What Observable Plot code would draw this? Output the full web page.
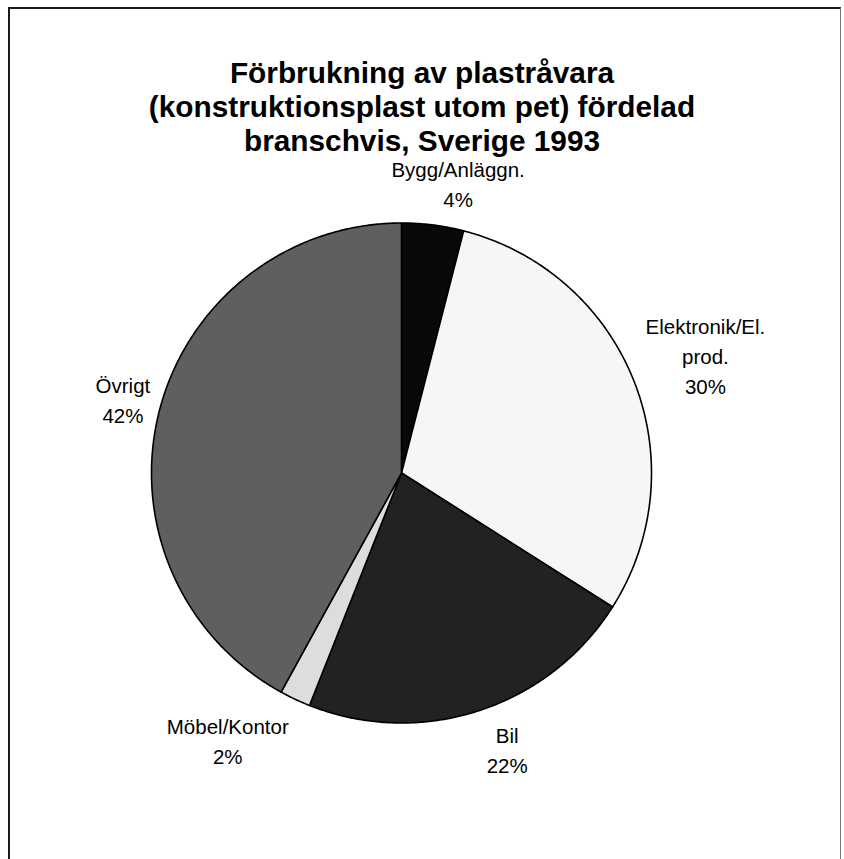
<!DOCTYPE html>
<html>
<head>
<meta charset="utf-8">
<script src="https://cdn.jsdelivr.net/npm/d3@7"></script>
<script src="https://cdn.jsdelivr.net/npm/@observablehq/plot@0.6"></script>
<style>
  html, body { margin: 0; padding: 0; background: #fff; overflow: hidden; }
  #page { position: relative; width: 844px; height: 859px; overflow: hidden; font-family: "Liberation Sans", Arial, sans-serif; }
  #frame { position: absolute; left: 8px; top: 7px; width: 833px; height: 900px;
           border-left: 2px solid #1a1a1a; border-top: 2px solid #1a1a1a; border-right: 1px solid #7a7a7a; box-sizing: border-box; }
  #title { position: absolute; left: 0; top: 56px; width: 844px; text-align: center;
           font-weight: bold; font-size: 29.8px; line-height: 34px; color: #000; }
  #chart { position: absolute; left: 0; top: 0; }
</style>
</head>
<body>
<div id="page">
  <div id="frame"></div>
  <div id="chart"></div>
  <div id="title">Förbrukning av plastråvara<br>(konstruktionsplast utom pet) fördelad<br>branschvis, Sverige 1993</div>
</div>
<script>
// Industry shares of plastic raw material consumption, clockwise from 12 o'clock
const categories = ["Bygg/Anläggn.", "Elektronik/El.\nprod.", "Bil", "Möbel/Kontor", "Övrigt"];
const shares = [4, 30, 22, 2, 42];
const sliceColors = ["#080808", "#f6f6f6", "#222222", "#dddddd", "#5f5f5f"];

// Label placement: pixel nudges from the point just outside each slice's mid-angle
const labelNudge = [[19, 7], [25, -8], [13, -10], [-46, -5], [12, 0]];

const arcs = d3.pie().sort(null).value(d => d)(shares);

// Each slice as a closed polygon in unit (x, y) space, from the centre along the arc
const slicePoints = [];
arcs.forEach((a, i) => {
  const steps = Math.max(4, Math.ceil((a.endAngle - a.startAngle) / (Math.PI / 360)));
  slicePoints.push({slice: i, x: 0, y: 0, color: sliceColors[i]});
  for (let k = 0; k <= steps; k++) {
    const t = a.startAngle + (a.endAngle - a.startAngle) * k / steps;
    slicePoints.push({slice: i, x: Math.sin(t), y: Math.cos(t), color: sliceColors[i]});
  }
  slicePoints.push({slice: i, x: 0, y: 0, color: sliceColors[i]});
});

const labelR = 1.2;
const labelMarks = arcs.map((a, i) => {
  const mid = (a.startAngle + a.endAngle) / 2;
  return Plot.text([{x: labelR * Math.sin(mid), y: labelR * Math.cos(mid), text: `${categories[i]}\n${shares[i]}%`}], {
    x: "x", y: "y", text: "text",
    dx: labelNudge[i][0], dy: labelNudge[i][1],
    textAnchor: "middle", lineAnchor: "middle", lineHeight: 1.45,
    fontSize: 20.5, fill: "#000",
    fontFamily: "Liberation Sans, Arial, sans-serif"
  });
});

const chart = Plot.plot({
  width: 844,
  height: 859,
  marginLeft: 151,
  marginRight: 193,
  marginTop: 222.5,
  marginBottom: 136.5,
  x: {domain: [-1, 1], axis: null},
  y: {domain: [-1, 1], axis: null},
  color: {type: "identity"},
  style: {background: "transparent", overflow: "visible"},
  marks: [
    Plot.line(slicePoints, {
      x: "x", y: "y", z: "slice", fill: "color",
      stroke: "#000", strokeWidth: 1.6, strokeLinejoin: "round", curve: "linear-closed"
    }),
    ...labelMarks
  ]
});
document.getElementById("chart").appendChild(chart);
</script>
</body>
</html>
